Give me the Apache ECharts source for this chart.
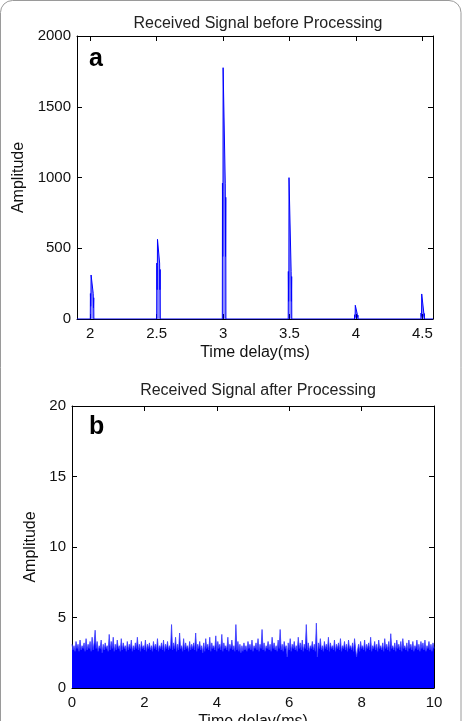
<!DOCTYPE html>
<html>
<head>
<meta charset="utf-8">
<script src="https://cdn.jsdelivr.net/npm/echarts@6/dist/echarts.min.js"></script>
<style>
html,body{margin:0;padding:0;background:#fff;}
#c{width:463px;height:721px;}
</style>
</head>
<body>
<div id="c"></div>
<script>
// Panel a: received signal before processing (time in ms, amplitude)
var beforeTime = [1.90,
  2.000, 2.001, 2.003, 2.005, 2.006, 2.021, 2.022, 2.024, 2.026, 2.027,
  2.500, 2.501, 2.503, 2.505, 2.506, 2.521, 2.522, 2.524, 2.526, 2.527,
  2.994, 2.995, 2.997, 2.999, 3.000, 3.015, 3.016, 3.018, 3.020, 3.021,
  3.490, 3.491, 3.493, 3.495, 3.496, 3.511, 3.512, 3.514, 3.516, 3.517,
  3.989, 3.990, 3.992, 3.994, 3.995, 4.010, 4.011, 4.013, 4.015, 4.016,
  4.489, 4.490, 4.492, 4.494, 4.495, 4.510, 4.511, 4.513, 4.515, 4.516,
  4.58];
var beforeAmp = [0,
  0, 180, 90, 160, 311, 311, 180, 80, 150, 0,
  0, 395, 207, 380, 563, 563, 395, 207, 350, 0,
  0, 960, 442, 900, 1776, 1776, 960, 442, 860, 0,
  0, 336, 125, 300, 999, 999, 336, 125, 300, 0,
  0, 30, 12, 27, 97, 97, 30, 12, 27, 0,
  0, 42, 18, 38, 177, 177, 42, 18, 38, 0,
  0];

// Panel b: received signal after processing, sampled every 10/360 ms from 0 to 10 ms
var afterStart = 0;
var afterEnd = 10;
var afterAmp = [
  3.1,2.7,3.0,2.6,3.3,2.8,3.1,2.6,3.4,2.7,3.0,2.8,3.2,2.6,3.5,2.7,3.1,2.8,3.3,2.6,
  3.6,2.7,3.2,4.1,2.8,3.3,2.6,3.0,2.8,3.4,2.5,3.1,2.7,3.2,2.8,3.0,2.6,3.8,2.7,3.3,
  2.8,3.6,2.6,3.1,2.7,3.4,2.8,3.0,2.6,3.5,2.7,3.2,2.8,3.0,2.6,3.3,2.7,3.1,2.8,3.4,
  2.6,3.0,2.7,3.2,2.8,3.6,2.7,3.1,2.6,3.3,2.8,3.0,2.7,3.4,2.6,3.1,2.8,3.2,2.7,3.0,
  2.6,3.3,2.8,3.1,2.7,3.5,2.6,3.0,2.8,3.2,2.7,3.4,2.6,3.1,2.8,3.3,2.7,3.0,2.8,4.5,
  2.7,3.2,2.8,3.6,2.6,3.1,2.7,3.9,2.8,3.0,2.6,3.5,2.7,3.2,2.8,3.0,2.6,3.3,2.7,3.1,
  2.8,3.2,2.7,3.9,2.6,3.1,2.8,3.3,2.7,3.0,2.5,3.2,2.6,3.5,2.8,3.1,2.7,3.6,2.6,3.2,
  2.8,3.0,2.7,3.7,2.6,3.3,2.8,3.1,2.7,3.8,2.6,3.2,2.8,3.0,2.7,3.6,2.6,3.1,2.8,3.4,
  2.7,3.0,2.6,4.5,2.7,3.3,2.6,3.1,2.5,3.0,2.6,3.2,2.7,3.0,2.6,3.3,2.8,3.1,2.7,3.4,
  2.6,3.0,2.8,3.2,2.7,3.5,2.6,3.1,2.8,4.15,2.7,3.2,2.6,3.0,2.8,3.3,2.7,3.1,2.6,3.6,
  2.8,3.2,2.7,3.0,2.6,3.4,2.8,4.15,2.7,3.1,2.6,3.3,2.8,3.0,2.2,3.2,2.7,3.5,2.6,3.1,
  2.8,3.3,2.7,3.0,2.6,3.6,2.8,3.2,2.7,3.4,2.6,3.1,2.8,4.5,2.7,3.2,2.6,3.0,2.8,3.3,
  2.7,3.1,2.6,4.6,2.2,3.2,2.8,3.5,2.7,3.0,2.6,3.3,2.8,3.1,2.7,3.6,2.6,3.2,2.8,3.0,
  2.7,3.4,2.6,3.1,2.8,3.2,2.7,3.5,2.6,3.0,2.8,3.3,2.7,3.1,2.6,3.4,2.8,3.0,2.7,3.2,
  2.6,3.5,2.8,2.2,2.7,3.1,2.6,3.3,2.8,3.0,2.7,3.4,2.6,3.1,2.8,3.2,2.7,3.6,2.6,3.0,
  2.8,3.3,2.7,3.1,2.6,3.4,2.8,3.0,2.7,3.2,2.6,3.5,2.8,3.1,2.7,3.3,2.6,3.85,2.8,3.0,
  2.7,3.2,2.6,3.4,2.8,3.1,2.7,3.3,2.6,3.5,2.8,3.0,2.7,3.2,2.6,3.4,2.8,3.1,2.7,3.3,
  2.6,3.0,2.8,3.4,2.7,3.1,2.6,3.3,2.8,3.2,2.7,3.4,2.6,3.0,2.8,3.3,2.7,3.1,2.6,3.2,
  2.8];

var titleA = 'Received Signal before Processing';
var titleB = 'Received Signal after Processing';
var xName = 'Time delay(ms)';
var yName = 'Amplitude';

var beforeData = beforeTime.map(function (t, i) { return [t, beforeAmp[i]]; });
var step = (afterEnd - afterStart) / (afterAmp.length - 1);
var afterData = afterAmp.map(function (v, i) { return [afterStart + i * step, v]; });

var FONT = 'Liberation Sans, Arial, Helvetica, sans-serif';
var tickLbl = { show: true, color: '#111', fontSize: 15, fontFamily: FONT,
  formatter: function (v) { return String(v); } };
var nameStyle = { color: '#111', fontSize: 16, fontFamily: FONT };
function box(gridIndex, pos, extra) {
  var o = {
    gridIndex: gridIndex, type: 'value', position: pos,
    axisLine: { show: true, onZero: false, lineStyle: { color: '#000', width: 1 } },
    axisTick: { show: true, inside: true, length: 5, lineStyle: { color: '#000' } },
    splitLine: { show: false },
    axisLabel: { show: false }
  };
  for (var k in extra) o[k] = extra[k];
  return o;
}
function lab(extra) {
  var o = {};
  for (var k in tickLbl) o[k] = tickLbl[k];
  for (var j in extra) o[j] = extra[j];
  return o;
}

var chart = echarts.init(document.getElementById('c'), null, { renderer: 'canvas' });
chart.setOption({
  animation: false,
  backgroundColor: '#fff',
  title: [
    { text: titleA, left: 253, top: 11, textAlign: 'center',
      textStyle: { fontSize: 16, fontWeight: 'normal', color: '#222', fontFamily: FONT } },
    { text: titleB, left: 253, top: 378, textAlign: 'center',
      textStyle: { fontSize: 16, fontWeight: 'normal', color: '#222', fontFamily: FONT } }
  ],
  grid: [
    { left: 77, top: 36, width: 356, height: 283, outerBoundsMode: 'none', containLabel: false },
    { left: 72, top: 406, width: 362, height: 282, outerBoundsMode: 'none', containLabel: false }
  ],
  xAxis: [
    box(0, 'bottom', { min: 1.9, max: 4.58,
      axisLabel: lab({ margin: 7, showMinLabel: false, showMaxLabel: false }),
      name: xName, nameLocation: 'middle', nameGap: 26, nameTextStyle: nameStyle }),
    box(0, 'top', { min: 1.9, max: 4.58 }),
    box(1, 'bottom', { min: 0, max: 10, interval: 2,
      axisLabel: lab({ margin: 7 }),
      name: xName, nameLocation: 'middle', nameGap: 26, nameTextStyle: nameStyle }),
    box(1, 'top', { min: 0, max: 10, interval: 2 })
  ],
  yAxis: [
    box(0, 'left', { min: 0, max: 2000, interval: 500,
      axisLabel: lab({ margin: 6 }),
      name: yName, nameLocation: 'middle', nameGap: 42, nameTextStyle: nameStyle }),
    box(0, 'right', { min: 0, max: 2000, interval: 500 }),
    box(1, 'left', { min: 0, max: 20, interval: 5,
      axisLabel: lab({ margin: 6 }),
      name: yName, nameLocation: 'middle', nameGap: 25, nameTextStyle: nameStyle }),
    box(1, 'right', { min: 0, max: 20, interval: 5 })
  ],
  series: [
    { type: 'line', xAxisIndex: 0, yAxisIndex: 0, data: beforeData, showSymbol: false,
      symbol: 'none', lineStyle: { color: '#0000ff', width: 1 },
      areaStyle: { color: '#0000ff', opacity: 0.45, origin: 'start' }, z: 5, clip: true },
    { type: 'line', xAxisIndex: 2, yAxisIndex: 2, data: afterData, showSymbol: false,
      symbol: 'none', lineStyle: { color: '#3a3aff', width: 0.8 },
      areaStyle: { color: '#0000ff', opacity: 1, origin: 'start' }, z: 1, clip: true }
  ],
  graphic: [
    { type: 'rect', shape: { x: 0.5, y: 0.5, width: 460.5, height: 760, r: 12 },
      style: { fill: 'none', stroke: '#9a9a9a', lineWidth: 1 }, z: 100, silent: true },
    { type: 'text', x: 89, y: 59, style: { text: 'a', font: 'bold 25px ' + FONT, fill: '#000', verticalAlign: 'middle' }, z: 100 },
    { type: 'text', x: 89, y: 427, style: { text: 'b', font: 'bold 25px ' + FONT, fill: '#000', verticalAlign: 'middle' }, z: 100 }
  ]
});
</script>
</body>
</html>
